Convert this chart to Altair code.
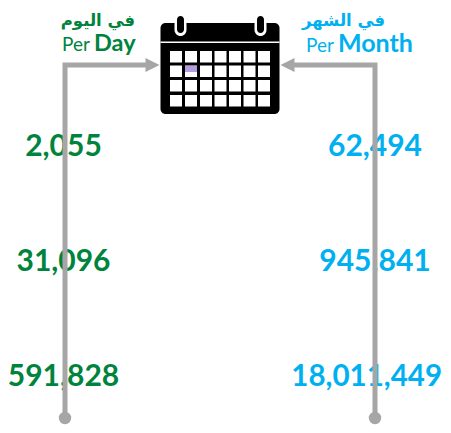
import altair as alt
import pandas as pd

# ---- content -------------------------------------------------------------
per_day = ["2,055", "31,096", "591,828"]
per_month = ["62,494", "945,841", "18,011,449"]
row_centres = [146.5, 261.5, 376.5]
line_column_x = [65, 375]
arabic = ["في اليوم", "في الشهر"]
GREEN = "#00843d"
BLUE = "#00b0f0"
GRAY = "#a6a6a6"

W, H = 435, 417
X = alt.Scale(domain=[8, 443], range=[0, W], nice=False, zero=False)
Y = alt.Scale(domain=[8, 425], range=[0, H], nice=False, zero=False)
ax = lambda f="x": alt.X(f"{f}:Q", scale=X, axis=None)
ay = lambda f="y": alt.Y(f"{f}:Q", scale=Y, axis=None)
LINE_END = 418


def rects(rows, color, radius=0):
    kw = {"cornerRadius": radius} if radius else {}
    return alt.Chart(pd.DataFrame(rows)).mark_rect(color=color, **kw).encode(
        x=ax("x"), x2="x2:Q", y=ay("y"), y2="y2:Q"
    )


def label(rows, **kw):
    return alt.Chart(pd.DataFrame(rows)).mark_text(**kw).encode(
        x=ax("x"), y=ay("y"), text="t:N"
    )


# numbers
numbers = [
    label([{"x": 63.5, "y": ry, "t": v} for v, ry in zip(per_day, row_centres)],
          font="Lato", fontWeight="bold", fontSize=30, color=GREEN,
          align="center", baseline="middle"),
    label([{"x": 375, "y": ry, "t": v} for v, ry in zip(per_month[:2], row_centres[:2])],
          font="Lato", fontWeight="bold", fontSize=30, color=BLUE,
          align="center", baseline="middle"),
    label([{"x": 442, "y": row_centres[2], "t": per_month[2]}],
          font="Lato", fontWeight="bold", fontSize=29.5, color=BLUE,
          align="right", baseline="middle"),
]

# connectors
def conn(points):
    return alt.Chart(pd.DataFrame(points)).mark_line(
        color=GRAY, strokeWidth=5, strokeJoin="miter"
    ).encode(x=ax("x"), y=ay("y"), order="o:Q")

connectors = [
    conn([{"x": 148, "y": 65, "o": 0}, {"x": 65, "y": 65, "o": 1}, {"x": 65, "y": LINE_END, "o": 2}]),
    conn([{"x": 292, "y": 65, "o": 0}, {"x": 375, "y": 65, "o": 1}, {"x": 375, "y": LINE_END, "o": 2}]),
]
heads = [
    alt.Chart(pd.DataFrame([{"x": 152.5, "y": 65}])).mark_point(
        shape="M-1,-1L1,0L-1,1Z", filled=True, color=GRAY, opacity=1, size=196
    ).encode(x=ax(), y=ay()),
    alt.Chart(pd.DataFrame([{"x": 287.5, "y": 65}])).mark_point(
        shape="M1,-1L-1,0L1,1Z", filled=True, color=GRAY, opacity=1, size=196
    ).encode(x=ax(), y=ay()),
]
dots = alt.Chart(pd.DataFrame([{"x": v, "y": LINE_END} for v in line_column_x])).mark_circle(
    color=GRAY, opacity=1, size=154
).encode(x=ax(), y=ay())

# calendar
cal_body = rects([{"x": 160.5, "x2": 279.5, "y": 23, "y2": 114}], "#000000", 5)
cal_rule = rects([{"x": 160.5, "x2": 279.5, "y": 41.5, "y2": 43}], "#ffffff")
cell_x = [170, 185, 200, 214.5, 229, 243.5, 258]
cell_y = [51, 65.5, 80, 95]
cells = rects(
    [{"x": a, "x2": a + 12, "y": b, "y2": b + 11.5} for a in cell_x for b in cell_y],
    "#ffffff",
)
purple = rects([{"x": 185, "x2": 197, "y": 66, "y2": 72}], "#b49be0")
ring_o = rects(
    [{"x": c - 6, "x2": c + 6, "y": 18, "y2": 36} for c in (180.5, 260.5)], "#ffffff", 6
)
ring_i = rects(
    [{"x": c - 3.5, "x2": c + 3.5, "y": 16, "y2": 33} for c in (180.5, 260.5)], "#000000", 3.5
)

# headings
head_day = [
    label([{"x": 135, "y": 20.5, "t": arabic[0]}], font="DejaVu Sans", fontWeight="bold",
          fontSize=16.5, color=GREEN, align="right", baseline="middle"),
    label([{"x": 62, "y": 51, "t": "Per"}], font="Lato", fontSize=19, color=GREEN, align="left", baseline="alphabetic"),
    label([{"x": 94, "y": 51, "t": "Day"}], font="Lato", fontWeight="bold", fontSize=23.5, color=GREEN, align="left", baseline="alphabetic"),
]
head_month = [
    label([{"x": 385, "y": 20.5, "t": arabic[1]}], font="DejaVu Sans", fontWeight="bold",
          fontSize=16.5, color=BLUE, align="right", baseline="middle"),
    label([{"x": 306, "y": 52, "t": "Per"}], font="Lato", fontSize=19, color=BLUE, align="left", baseline="alphabetic"),
    label([{"x": 338, "y": 52, "t": "Month"}], font="Lato", fontWeight="bold", fontSize=25, color=BLUE, align="left", baseline="alphabetic"),
]

chart = alt.layer(
    *numbers, *connectors, *heads, dots,
    cal_body, cal_rule, cells, purple, ring_o, ring_i,
    *head_day, *head_month,
).properties(
    width=W, height=H, padding=0, autosize=alt.AutoSizeParams(type="none")
).configure_view(stroke=None)

chart.save("out.html", embed_options={"renderer": "svg", "actions": False})
